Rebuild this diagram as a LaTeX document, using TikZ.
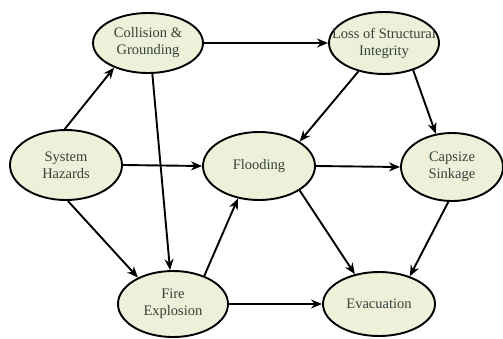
\documentclass[tikz,border=0pt]{standalone}
\usepackage{fontspec}
\setmainfont{Liberation Serif}
\usetikzlibrary{shapes.geometric,arrows.meta}
\definecolor{nodefill}{HTML}{EEF0DA}
\definecolor{nodetext}{HTML}{34433A}
\newcommand{\zl}[1]{\makebox[0pt]{#1}}
\begin{document}
\begin{tikzpicture}[x=1pt,y=-1pt,
  hz/.style={ellipse,draw=black,line width=1.9pt,fill=nodefill,inner sep=0pt,
    minimum width=111pt,minimum height=64pt,align=center,text=nodetext,
    font=\fontsize{14.5}{17}\selectfont},
  arr/.style={line width=1.9pt,-{Stealth[length=11pt,width=9pt,inset=3.5pt]}}]
\useasboundingbox (0,0) rectangle (503,338);
\node[hz,minimum height=70pt,minimum width=112pt] (sh) at (66,165) {System\\Hazards};
\node[hz,minimum height=60pt,minimum width=110pt] (cg) at (148,43) {Collision \&\\Grounding};
\node[hz,minimum height=62pt,minimum width=110pt] (ls) at (384,43) {\zl{Loss of Structural}\\\zl{Integrity}};
\node[hz,minimum height=68pt,minimum width=112pt] (fl) at (259,166) {Flooding};
\node[hz,minimum height=68pt,minimum width=102pt] (cs) at (452,167) {Capsize\\Sinkage};
\node[hz,minimum height=66pt,minimum width=110pt] (fe) at (173,304) {Fire\\Explosion};
\node[hz,minimum height=64pt,minimum width=112pt] (ev) at (379,304) {Evacuation};
\draw[arr] (sh.92) -- (cg.216);
\draw[arr] (sh.east) -- (fl.west);
\draw[arr] (sh.273) -- (fe.143);
\draw[arr] (cg.east) -- (ls.west);
\draw[arr] (cg.278) -- (fe.95);
\draw[arr] (ls.228) -- (fl.31);
\draw[arr] (ls.317) -- (cs.116);
\draw[arr] (fl.east) -- (cs.west);
\draw[arr] (fl.329) -- (ev.129);
\draw[arr] (cs.264) -- (ev.42);
\draw[arr] (fe.42) -- (fl.237);
\draw[arr] (fe.east) -- (ev.west);
\end{tikzpicture}
\end{document}
